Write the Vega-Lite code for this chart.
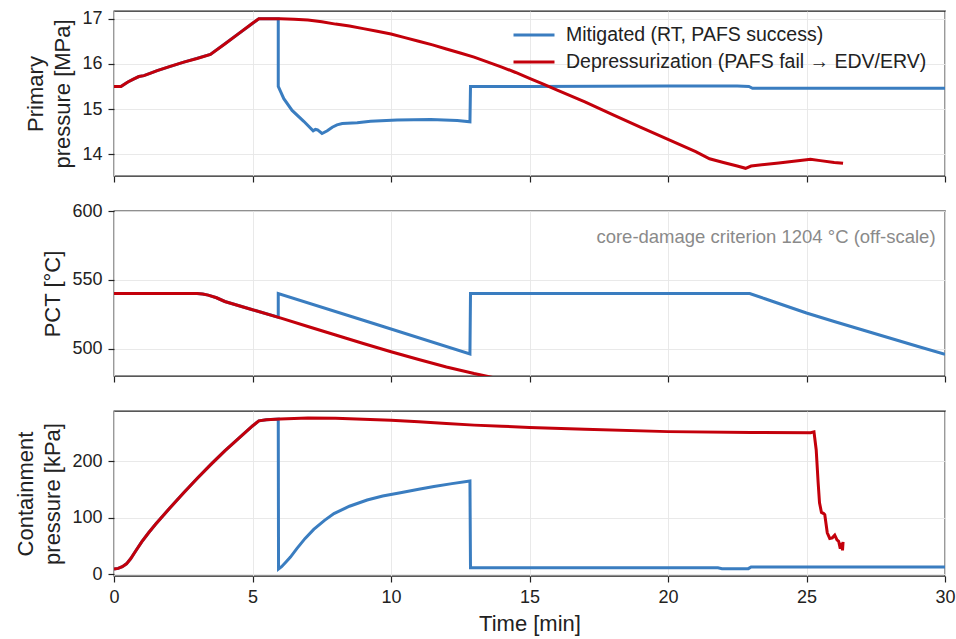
{
  "$schema": "https://vega.github.io/schema/vega-lite/v6.json",
  "background": "white",
  "padding": {"left": 14, "top": 9, "right": 10, "bottom": 5},
  "config": {
    "font": "Liberation Sans",
    "view": {"stroke": "#222222", "strokeWidth": 1.3},
    "axis": {
      "domain": false,
      "tickColor": "#222222",
      "tickSize": 6,
      "tickWidth": 1.2,
      "labelFontSize": 18,
      "labelColor": "#222222",
      "titleFontSize": 22,
      "titleFontWeight": "normal",
      "titleColor": "#222222",
      "gridColor": "#e6e6e6",
      "gridWidth": 0.9,
      "labelPadding": 6,
      "titlePadding": 7
    }
  },
  "datasets": {
    "pp": [
      {"s": "M", "t": 0, "v": 15.5}, {"s": "M", "t": 0.25, "v": 15.5}, {"s": "M", "t": 0.5, "v": 15.6}, {"s": "M", "t": 0.72, "v": 15.67}, {"s": "M", "t": 0.9, "v": 15.72}, {"s": "M", "t": 1.08, "v": 15.74}, {"s": "M", "t": 1.56, "v": 15.85}, {"s": "M", "t": 2.52, "v": 16.04}, {"s": "M", "t": 3.48, "v": 16.21}, {"s": "M", "t": 5.23, "v": 17.0}, {"s": "M", "t": 5.93, "v": 17.0},
      {"s": "M", "t": 5.93, "v": 15.5}, {"s": "M", "t": 6.13, "v": 15.23}, {"s": "M", "t": 6.43, "v": 14.97}, {"s": "M", "t": 6.85, "v": 14.73}, {"s": "M", "t": 7.19, "v": 14.52}, {"s": "M", "t": 7.27, "v": 14.55}, {"s": "M", "t": 7.35, "v": 14.54}, {"s": "M", "t": 7.51, "v": 14.46}, {"s": "M", "t": 7.7, "v": 14.52}, {"s": "M", "t": 7.88, "v": 14.6}, {"s": "M", "t": 8.05, "v": 14.65}, {"s": "M", "t": 8.24, "v": 14.68}, {"s": "M", "t": 8.78, "v": 14.7}, {"s": "M", "t": 9.26, "v": 14.73}, {"s": "M", "t": 10.22, "v": 14.76}, {"s": "M", "t": 11.43, "v": 14.77}, {"s": "M", "t": 12.39, "v": 14.75}, {"s": "M", "t": 12.85, "v": 14.72},
      {"s": "M", "t": 12.87, "v": 15.5}, {"s": "M", "t": 15, "v": 15.5}, {"s": "M", "t": 20, "v": 15.51}, {"s": "M", "t": 22.5, "v": 15.51}, {"s": "M", "t": 22.92, "v": 15.5}, {"s": "M", "t": 23.05, "v": 15.46}, {"s": "M", "t": 30, "v": 15.46},
      {"s": "D", "t": 0, "v": 15.5}, {"s": "D", "t": 0.25, "v": 15.5}, {"s": "D", "t": 0.5, "v": 15.6}, {"s": "D", "t": 0.72, "v": 15.67}, {"s": "D", "t": 0.9, "v": 15.72}, {"s": "D", "t": 1.08, "v": 15.74}, {"s": "D", "t": 1.3, "v": 15.79}, {"s": "D", "t": 1.56, "v": 15.85}, {"s": "D", "t": 2.0, "v": 15.94}, {"s": "D", "t": 2.52, "v": 16.04}, {"s": "D", "t": 3.0, "v": 16.12}, {"s": "D", "t": 3.48, "v": 16.21}, {"s": "D", "t": 4.0, "v": 16.44}, {"s": "D", "t": 4.5, "v": 16.67}, {"s": "D", "t": 5.0, "v": 16.9}, {"s": "D", "t": 5.23, "v": 17.0}, {"s": "D", "t": 5.6, "v": 17.0}, {"s": "D", "t": 6.0, "v": 17.0}, {"s": "D", "t": 6.5, "v": 16.99}, {"s": "D", "t": 7.0, "v": 16.97}, {"s": "D", "t": 7.5, "v": 16.93}, {"s": "D", "t": 8.0, "v": 16.88}, {"s": "D", "t": 8.5, "v": 16.84}, {"s": "D", "t": 9.0, "v": 16.78}, {"s": "D", "t": 9.5, "v": 16.72}, {"s": "D", "t": 10.0, "v": 16.66}, {"s": "D", "t": 10.5, "v": 16.58}, {"s": "D", "t": 11.0, "v": 16.5}, {"s": "D", "t": 11.5, "v": 16.42}, {"s": "D", "t": 12.0, "v": 16.33}, {"s": "D", "t": 12.5, "v": 16.24}, {"s": "D", "t": 13.0, "v": 16.15}, {"s": "D", "t": 13.5, "v": 16.04}, {"s": "D", "t": 14.0, "v": 15.93}, {"s": "D", "t": 14.5, "v": 15.81}, {"s": "D", "t": 15.0, "v": 15.68}, {"s": "D", "t": 15.5, "v": 15.55}, {"s": "D", "t": 16, "v": 15.42}, {"s": "D", "t": 17, "v": 15.16}, {"s": "D", "t": 18, "v": 14.88}, {"s": "D", "t": 19, "v": 14.6}, {"s": "D", "t": 20, "v": 14.33}, {"s": "D", "t": 21, "v": 14.06}, {"s": "D", "t": 21.5, "v": 13.9}, {"s": "D", "t": 22, "v": 13.82}, {"s": "D", "t": 22.5, "v": 13.74}, {"s": "D", "t": 22.8, "v": 13.69}, {"s": "D", "t": 23.0, "v": 13.74}, {"s": "D", "t": 24.0, "v": 13.81}, {"s": "D", "t": 25.0, "v": 13.88}, {"s": "D", "t": 25.14, "v": 13.89}, {"s": "D", "t": 25.5, "v": 13.86}, {"s": "D", "t": 26.0, "v": 13.82}, {"s": "D", "t": 26.32, "v": 13.8}
    ],
    "pct": [
      {"s": "M", "t": 0, "v": 540}, {"s": "M", "t": 3.0, "v": 540}, {"s": "M", "t": 3.2, "v": 539.6}, {"s": "M", "t": 3.4, "v": 538.8}, {"s": "M", "t": 3.7, "v": 536.9}, {"s": "M", "t": 4, "v": 534.2}, {"s": "M", "t": 5, "v": 528.2}, {"s": "M", "t": 5.93, "v": 522.7},
      {"s": "M", "t": 5.93, "v": 540}, {"s": "M", "t": 9.4, "v": 518}, {"s": "M", "t": 12.85, "v": 496}, {"s": "M", "t": 12.87, "v": 540}, {"s": "M", "t": 22.95, "v": 540}, {"s": "M", "t": 23.5, "v": 536.2}, {"s": "M", "t": 24, "v": 532.7}, {"s": "M", "t": 25, "v": 525.8}, {"s": "M", "t": 26, "v": 519.6}, {"s": "M", "t": 27, "v": 513.6}, {"s": "M", "t": 28, "v": 507.6}, {"s": "M", "t": 29, "v": 501.6}, {"s": "M", "t": 30, "v": 495.7},
      {"s": "D", "t": 0, "v": 540}, {"s": "D", "t": 3.0, "v": 540}, {"s": "D", "t": 3.2, "v": 539.6}, {"s": "D", "t": 3.4, "v": 538.8}, {"s": "D", "t": 3.7, "v": 536.9}, {"s": "D", "t": 4, "v": 534.2}, {"s": "D", "t": 5, "v": 528.2}, {"s": "D", "t": 6, "v": 522.3}, {"s": "D", "t": 7, "v": 516}, {"s": "D", "t": 8, "v": 509.8}, {"s": "D", "t": 9, "v": 503.6}, {"s": "D", "t": 10, "v": 497.6}, {"s": "D", "t": 11, "v": 492}, {"s": "D", "t": 12, "v": 486.6}, {"s": "D", "t": 13, "v": 481.8}, {"s": "D", "t": 14, "v": 477.5}, {"s": "D", "t": 15, "v": 473.5}
    ],
    "cp": [
      {"s": "M", "t": 0, "v": 9}, {"s": "M", "t": 0.15, "v": 10}, {"s": "M", "t": 0.3, "v": 13}, {"s": "M", "t": 0.45, "v": 18}, {"s": "M", "t": 0.6, "v": 27}, {"s": "M", "t": 0.8, "v": 42}, {"s": "M", "t": 1.0, "v": 57}, {"s": "M", "t": 1.25, "v": 73}, {"s": "M", "t": 1.5, "v": 88}, {"s": "M", "t": 2.0, "v": 116}, {"s": "M", "t": 2.5, "v": 143}, {"s": "M", "t": 3.0, "v": 169}, {"s": "M", "t": 3.5, "v": 194}, {"s": "M", "t": 4.0, "v": 218}, {"s": "M", "t": 4.5, "v": 240}, {"s": "M", "t": 5.0, "v": 262}, {"s": "M", "t": 5.23, "v": 271}, {"s": "M", "t": 5.5, "v": 273}, {"s": "M", "t": 5.93, "v": 274.3},
      {"s": "M", "t": 5.94, "v": 9}, {"s": "M", "t": 6.05, "v": 13}, {"s": "M", "t": 6.2, "v": 21}, {"s": "M", "t": 6.37, "v": 30}, {"s": "M", "t": 6.6, "v": 45}, {"s": "M", "t": 6.9, "v": 63}, {"s": "M", "t": 7.21, "v": 79}, {"s": "M", "t": 7.6, "v": 95}, {"s": "M", "t": 7.94, "v": 107}, {"s": "M", "t": 8.5, "v": 120}, {"s": "M", "t": 9.14, "v": 131}, {"s": "M", "t": 9.7, "v": 138}, {"s": "M", "t": 10.34, "v": 144}, {"s": "M", "t": 11, "v": 150}, {"s": "M", "t": 11.55, "v": 155}, {"s": "M", "t": 12.2, "v": 160}, {"s": "M", "t": 12.85, "v": 164.5},
      {"s": "M", "t": 12.87, "v": 11}, {"s": "M", "t": 21.8, "v": 11}, {"s": "M", "t": 21.95, "v": 9.5}, {"s": "M", "t": 22.9, "v": 9.5}, {"s": "M", "t": 23.0, "v": 12.5}, {"s": "M", "t": 30, "v": 12.5},
      {"s": "D", "t": 0, "v": 9}, {"s": "D", "t": 0.15, "v": 10}, {"s": "D", "t": 0.3, "v": 13}, {"s": "D", "t": 0.45, "v": 18}, {"s": "D", "t": 0.6, "v": 27}, {"s": "D", "t": 0.8, "v": 42}, {"s": "D", "t": 1.0, "v": 57}, {"s": "D", "t": 1.25, "v": 73}, {"s": "D", "t": 1.5, "v": 88}, {"s": "D", "t": 2.0, "v": 116}, {"s": "D", "t": 2.5, "v": 143}, {"s": "D", "t": 3.0, "v": 169}, {"s": "D", "t": 3.5, "v": 194}, {"s": "D", "t": 4.0, "v": 218}, {"s": "D", "t": 4.5, "v": 240}, {"s": "D", "t": 5.0, "v": 262}, {"s": "D", "t": 5.23, "v": 271}, {"s": "D", "t": 5.5, "v": 273}, {"s": "D", "t": 6, "v": 274.5}, {"s": "D", "t": 7, "v": 276}, {"s": "D", "t": 8, "v": 275.5}, {"s": "D", "t": 9, "v": 274}, {"s": "D", "t": 10, "v": 272}, {"s": "D", "t": 11, "v": 269.5}, {"s": "D", "t": 12, "v": 266.5}, {"s": "D", "t": 13, "v": 263.5}, {"s": "D", "t": 14, "v": 261.5}, {"s": "D", "t": 15, "v": 259.5}, {"s": "D", "t": 17, "v": 256}, {"s": "D", "t": 20, "v": 252}, {"s": "D", "t": 23, "v": 250.5}, {"s": "D", "t": 25.15, "v": 250}, {"s": "D", "t": 25.27, "v": 251.5}, {"s": "D", "t": 25.35, "v": 220}, {"s": "D", "t": 25.42, "v": 162}, {"s": "D", "t": 25.47, "v": 126}, {"s": "D", "t": 25.54, "v": 109}, {"s": "D", "t": 25.62, "v": 107}, {"s": "D", "t": 25.66, "v": 105}, {"s": "D", "t": 25.75, "v": 73}, {"s": "D", "t": 25.84, "v": 63}, {"s": "D", "t": 25.93, "v": 64}, {"s": "D", "t": 26.02, "v": 68.8}, {"s": "D", "t": 26.1, "v": 60.5}, {"s": "D", "t": 26.16, "v": 58}, {"s": "D", "t": 26.22, "v": 45}, {"s": "D", "t": 26.27, "v": 55}, {"s": "D", "t": 26.3, "v": 42}, {"s": "D", "t": 26.32, "v": 57}
    ]
  },
  "spacing": 35,
  "bounds": "flush",
  "resolve": {"legend": {"color": "independent"}},
  "vconcat": [
    {
      "width": 831,
      "height": 165,
      "layer": [
        {
          "data": {"name": "pp"},
          "transform": [{"filter": "datum.s == 'M'"}],
          "mark": {"type": "line", "strokeWidth": 3, "clip": true},
          "encoding": {
            "x": {"field": "t", "type": "quantitative", "scale": {"domain": [0, 30], "nice": false}, "axis": {"values": [0, 5, 10, 15, 20, 25, 30], "labels": false, "title": null}},
            "y": {"field": "v", "type": "quantitative", "scale": {"domain": [13.52, 17.17], "nice": false, "zero": false}, "axis": {"values": [14, 15, 16, 17], "title": ["Primary", "pressure [MPa]"], "titleLineHeight": 27}},
            "color": {"field": "s", "type": "nominal", "scale": {"domain": ["M", "D"], "range": ["#3a7dc0", "#c3000b"]},
              "legend": {"orient": "none", "legendX": 408, "legendY": 12, "title": null, "symbolType": "M-2,0H2", "symbolSize": 420, "symbolStrokeWidth": 3, "labelFontSize": 19.5, "labelColor": "#222222", "labelOffset": 20, "rowPadding": 5, "labelLimit": 600,
                "labelExpr": "datum.label == 'M' ? 'Mitigated (RT, PAFS success)' : 'Depressurization (PAFS fail → EDV/ERV)'"}}
          }
        },
        {
          "data": {"name": "pp"},
          "transform": [{"filter": "datum.s == 'D'"}],
          "mark": {"type": "line", "strokeWidth": 3, "clip": true},
          "encoding": {
            "x": {"field": "t", "type": "quantitative"},
            "y": {"field": "v", "type": "quantitative"},
            "color": {"field": "s", "type": "nominal",
              "legend": {"orient": "none", "legendX": 408, "legendY": 12, "title": null, "symbolType": "M-2,0H2", "symbolSize": 420, "symbolStrokeWidth": 3, "labelFontSize": 19.5, "labelColor": "#222222", "labelOffset": 20, "rowPadding": 5, "labelLimit": 600,
                "labelExpr": "datum.label == 'M' ? 'Mitigated (RT, PAFS success)' : 'Depressurization (PAFS fail → EDV/ERV)'"}}
          }
        }
      ]
    },
    {
      "width": 831,
      "height": 165,
      "layer": [
        {
          "data": {"name": "pct"},
          "transform": [{"filter": "datum.s == 'M'"}],
          "mark": {"type": "line", "strokeWidth": 3, "clip": true},
          "encoding": {
            "x": {"field": "t", "type": "quantitative", "scale": {"domain": [0, 30], "nice": false}, "axis": {"values": [0, 5, 10, 15, 20, 25, 30], "labels": false, "title": null}},
            "y": {"field": "v", "type": "quantitative", "scale": {"domain": [480, 600], "nice": false, "zero": false}, "axis": {"values": [500, 550, 600], "title": "PCT [°C]"}},
            "color": {"field": "s", "type": "nominal", "legend": null}
          }
        },
        {
          "data": {"name": "pct"},
          "transform": [{"filter": "datum.s == 'D'"}],
          "mark": {"type": "line", "strokeWidth": 3, "clip": true},
          "encoding": {
            "x": {"field": "t", "type": "quantitative"},
            "y": {"field": "v", "type": "quantitative"},
            "color": {"field": "s", "type": "nominal", "legend": null}
          }
        },
        {
          "data": {"values": [{"label": "core-damage criterion 1204 °C (off-scale)"}]},
          "mark": {"type": "text", "align": "right", "baseline": "middle", "fontSize": 18.5, "color": "#8a8a8a"},
          "encoding": {
            "x": {"datum": 29.66, "type": "quantitative"},
            "y": {"datum": 581, "type": "quantitative"},
            "text": {"field": "label"}
          }
        }
      ]
    },
    {
      "width": 831,
      "height": 165,
      "layer": [
        {
          "data": {"name": "cp"},
          "transform": [{"filter": "datum.s == 'M'"}],
          "mark": {"type": "line", "strokeWidth": 3, "clip": true},
          "encoding": {
            "x": {"field": "t", "type": "quantitative", "scale": {"domain": [0, 30], "nice": false}, "axis": {"values": [0, 5, 10, 15, 20, 25, 30], "title": "Time [min]", "labelFlush": false}},
            "y": {"field": "v", "type": "quantitative", "scale": {"domain": [-3.5, 288.5], "nice": false, "zero": false}, "axis": {"values": [0, 100, 200], "title": ["Containment", "pressure [kPa]"], "titleLineHeight": 27}},
            "color": {"field": "s", "type": "nominal", "legend": null}
          }
        },
        {
          "data": {"name": "cp"},
          "transform": [{"filter": "datum.s == 'D'"}],
          "mark": {"type": "line", "strokeWidth": 3, "clip": true},
          "encoding": {
            "x": {"field": "t", "type": "quantitative"},
            "y": {"field": "v", "type": "quantitative"},
            "color": {"field": "s", "type": "nominal", "legend": null}
          }
        }
      ]
    }
  ]
}
